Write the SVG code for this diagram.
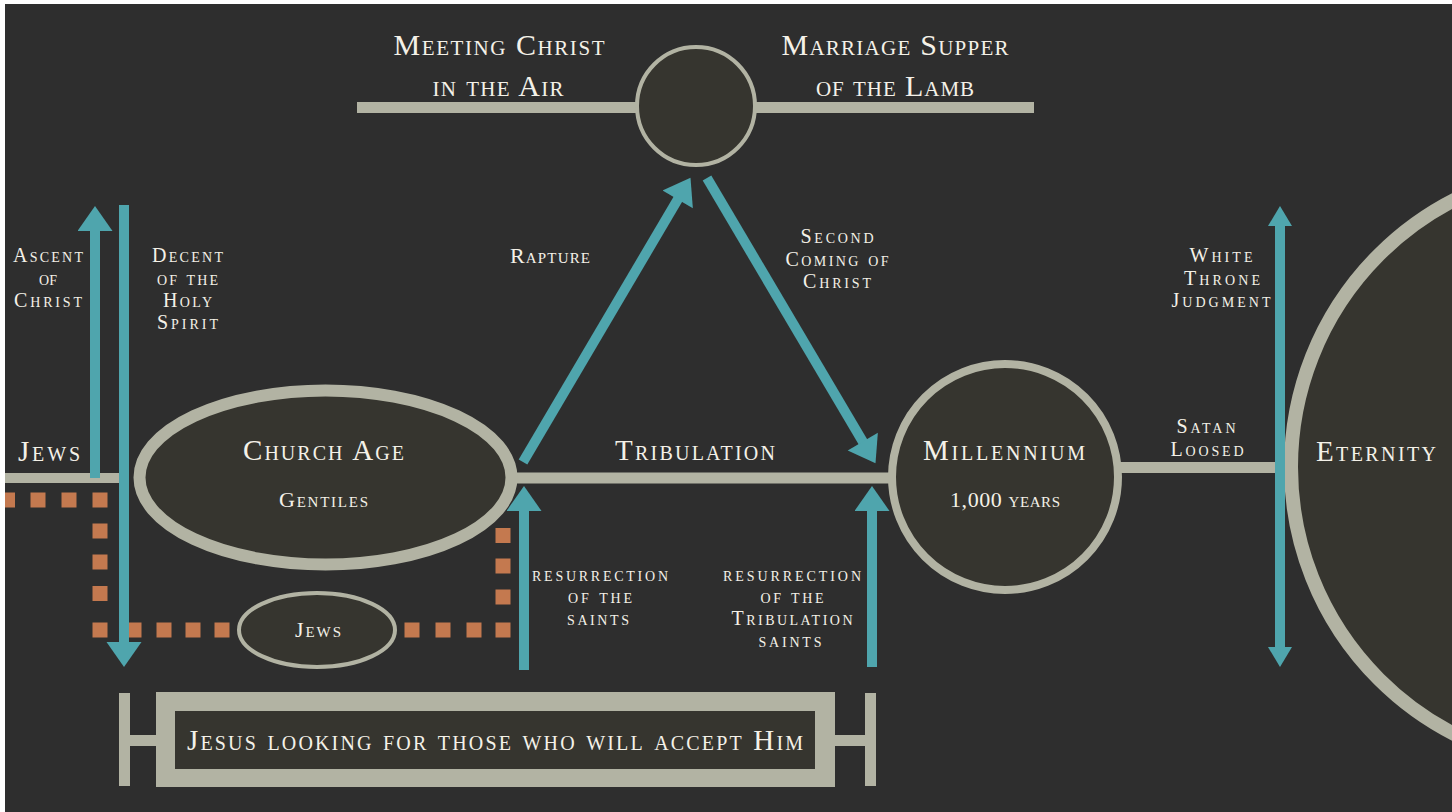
<svg xmlns="http://www.w3.org/2000/svg" xmlns:xlink="http://www.w3.org/1999/xlink" width="1452" height="812" viewBox="0 0 1452 812">
<style>
.bg{fill:#2e2e2e}
.ln{stroke:#b2b3a3;fill:none}
.node{fill:#36352f;stroke:#b2b3a3}
.ar{stroke:#4fa5ad;stroke-width:10;fill:none}
.t{font-family:"Liberation Serif","Times New Roman",serif;font-variant:small-caps;fill:#f4f1e8;text-anchor:middle}
.big{font-size:29px}
.top{font-size:30px}
.med{font-size:22px}
.sm{font-size:20px}
</style>
<defs>
<marker id="ah" markerUnits="userSpaceOnUse" markerWidth="27" markerHeight="36" viewBox="0 0 26 36" refX="1" refY="17.5" orient="auto-start-reverse">
<path d="M0,0 L25,17.5 L0,35 z" fill="#4fa5ad"/>
</marker>
<marker id="ahs" markerUnits="userSpaceOnUse" markerWidth="22" markerHeight="25" viewBox="0 0 22 25" refX="1" refY="12" orient="auto-start-reverse">
<path d="M0,0 L20,12 L0,24 z" fill="#4fa5ad"/>
</marker>
<rect id="sq" width="15" height="15" fill="#c4794f"/>
</defs>
<rect width="1452" height="812" fill="#ffffff"/>
<rect class="bg" x="5" y="4" width="1447" height="808"/>

<g id="orange-path">
<rect x="5" y="492.5" width="10" height="15" fill="#c4794f"/>
<use xlink:href="#sq" x="30.5" y="492.5"/>
<use xlink:href="#sq" x="61.5" y="492.5"/>
<use xlink:href="#sq" x="92.5" y="492.5"/>
<use xlink:href="#sq" x="92.5" y="523.5"/>
<use xlink:href="#sq" x="92.5" y="554.5"/>
<use xlink:href="#sq" x="92.5" y="586"/>
<use xlink:href="#sq" x="92.5" y="622.5"/>
<use xlink:href="#sq" x="126.5" y="622.5"/>
<use xlink:href="#sq" x="156.5" y="622.5"/>
<use xlink:href="#sq" x="185.5" y="622.5"/>
<use xlink:href="#sq" x="214.5" y="622.5"/>
<use xlink:href="#sq" x="404.5" y="622.5"/>
<use xlink:href="#sq" x="435.5" y="622.5"/>
<use xlink:href="#sq" x="466.5" y="622.5"/>
<use xlink:href="#sq" x="495.5" y="622.5"/>
<use xlink:href="#sq" x="495.5" y="589.5"/>
<use xlink:href="#sq" x="495.5" y="558.5"/>
<use xlink:href="#sq" x="495.5" y="528"/>
</g>

<g id="timeline">
<line class="ln" x1="357" y1="107.5" x2="1034" y2="107.5" stroke-width="11"/>
<line class="ln" x1="5" y1="478" x2="124" y2="478" stroke-width="10"/>
<line class="ln" x1="510" y1="478" x2="895" y2="478" stroke-width="11"/>
<line class="ln" x1="1115" y1="467.5" x2="1285" y2="467.5" stroke-width="11"/>
</g>

<g id="node-top">
<circle class="node" cx="696" cy="106" r="59" stroke-width="4"/>
<text class="t top" x="499" y="55" textLength="211">Meeting Christ</text>
<text class="t top" x="498" y="96" textLength="131">in the Air</text>
<text class="t top" x="895" y="55" textLength="227">Marriage Supper</text>
<text class="t top" x="895" y="96" textLength="158">of the Lamb</text>
</g>

<g id="node-jews-left">
<text class="t big" x="49" y="461" textLength="62">Jews</text>
</g>

<g id="node-church-age">
<ellipse class="node" cx="325.5" cy="477.5" rx="186" ry="87" stroke-width="12"/>
<text class="t big" x="323.5" y="460" textLength="161">Church Age</text>
<text class="t med" x="323.5" y="507" textLength="89">Gentiles</text>
</g>

<g id="node-jews">
<ellipse class="node" cx="317" cy="630" rx="78" ry="37" stroke-width="4"/>
<text class="t med" x="318" y="637" textLength="46">Jews</text>
</g>

<g id="node-tribulation">
<text class="t big" x="695" y="460" textLength="160">Tribulation</text>
</g>

<g id="node-millennium">
<circle class="node" cx="1005" cy="477" r="113" stroke-width="8"/>
<text class="t big" x="1004" y="460" textLength="162">Millennium</text>
<text class="t med" x="1005" y="507" textLength="110">1,000 years</text>
</g>

<g id="node-eternity">
<circle class="node" cx="1591" cy="467" r="300" stroke-width="14"/>
<text class="t big" x="1376" y="461" textLength="120">Eternity</text>
</g>

<g id="node-jesus">
<rect x="119" y="693" width="11" height="93" fill="#b2b3a3"/>
<rect x="129" y="735" width="28" height="11" fill="#b2b3a3"/>
<rect x="865" y="693" width="11" height="93" fill="#b2b3a3"/>
<rect x="834" y="735" width="32" height="11" fill="#b2b3a3"/>
<rect x="156" y="692" width="679" height="95" fill="#b2b3a3"/>
<rect x="175" y="711" width="640" height="58" fill="#36352f"/>
<text class="t big" x="495" y="750" textLength="616">Jesus looking for those who will accept Him</text>
</g>

<g id="connectors">
<line class="ar" x1="95" y1="478" x2="95" y2="230" marker-end="url(#ah)"/>
<line class="ar" x1="124" y1="205" x2="124" y2="643" marker-end="url(#ah)"/>
<line class="ar" x1="523" y1="462" x2="678.3" y2="198.5" marker-end="url(#ah)"/>
<line class="ar" x1="707" y1="178" x2="863.3" y2="442.5" marker-end="url(#ah)"/>
<line class="ar" x1="524" y1="670" x2="524" y2="510" marker-end="url(#ah)"/>
<line class="ar" x1="872" y1="667" x2="872" y2="510" marker-end="url(#ah)"/>
<line class="ar" x1="1280" y1="225" x2="1280" y2="648" marker-start="url(#ahs)" marker-end="url(#ahs)"/>
</g>

<g id="labels">
<text class="t sm" x="48" y="262" textLength="70">Ascent</text>
<text class="t sm" x="48" y="285">of</text>
<text class="t sm" x="48" y="307" textLength="68">Christ</text>
<text class="t sm" x="187.5" y="262" textLength="71">Decent</text>
<text class="t sm" x="187.5" y="285" textLength="61">of the</text>
<text class="t sm" x="187.5" y="307" textLength="49">Holy</text>
<text class="t sm" x="187.5" y="329" textLength="61">Spirit</text>
<text class="t med" x="550" y="263" textLength="80">Rapture</text>
<text class="t sm" x="837" y="243" textLength="73">Second</text>
<text class="t sm" x="837" y="266" textLength="103">Coming of</text>
<text class="t sm" x="837" y="288" textLength="68">Christ</text>
<text class="t sm" x="600" y="581" textLength="136">resurrection</text>
<text class="t sm" x="600" y="603" textLength="64">of the</text>
<text class="t sm" x="598" y="625" textLength="62">saints</text>
<text class="t sm" x="792" y="581" textLength="138">resurrection</text>
<text class="t sm" x="792" y="603" textLength="63">of the</text>
<text class="t sm" x="792" y="625" textLength="121">Tribulation</text>
<text class="t sm" x="790" y="647" textLength="63">saints</text>
<text class="t sm" x="1206" y="433" textLength="59">Satan</text>
<text class="t sm" x="1207" y="456" textLength="73">Loosed</text>
<text class="t sm" x="1221" y="262" textLength="63">White</text>
<text class="t sm" x="1222" y="285" textLength="76">Throne</text>
<text class="t sm" x="1221" y="307" textLength="99">Judgment</text>
</g>
</svg>
